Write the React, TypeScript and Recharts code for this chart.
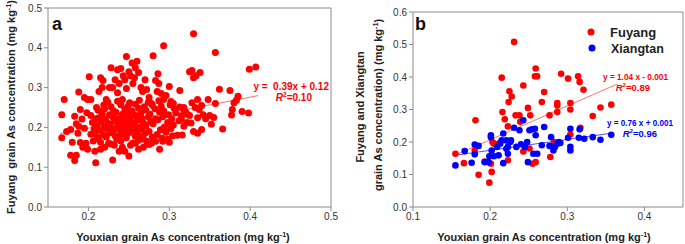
import { ScatterChart, Scatter, XAxis, YAxis, ReferenceLine } from 'recharts';

// panel a: Youxian (x) vs Fuyang (y), mg/kg
const fuyangA: [number, number][] = [
  // sparse left side
  [0.167, 0.232], [0.170, 0.270], [0.167, 0.174], [0.173, 0.190], [0.178, 0.195], [0.180, 0.163],
  [0.178, 0.130], [0.183, 0.117], [0.185, 0.130], [0.183, 0.228], [0.185, 0.209], [0.188, 0.289],
  [0.190, 0.245], [0.192, 0.221], [0.195, 0.198], [0.187, 0.185], [0.190, 0.162], [0.197, 0.160],
  [0.198, 0.237], [0.195, 0.275], [0.199, 0.270], [0.193, 0.150], [0.199, 0.145], [0.188, 0.203],
  [0.201, 0.327], [0.203, 0.270], [0.203, 0.230], [0.205, 0.212], [0.203, 0.183], [0.206, 0.166],
  [0.208, 0.140], [0.209, 0.111], [0.210, 0.250], [0.207, 0.196], [0.211, 0.175], [0.209, 0.222],
  // upper scatter
  [0.215, 0.325], [0.218, 0.318], [0.213, 0.290], [0.217, 0.300], [0.222, 0.270], [0.228, 0.350],
  [0.226, 0.300], [0.230, 0.300], [0.233, 0.320], [0.236, 0.345], [0.240, 0.348], [0.238, 0.310],
  [0.236, 0.287], [0.243, 0.330], [0.245, 0.320], [0.242, 0.270], [0.247, 0.298], [0.250, 0.340],
  [0.252, 0.330], [0.255, 0.310], [0.258, 0.350], [0.257, 0.325], [0.262, 0.338], [0.265, 0.300],
  [0.267, 0.290], [0.270, 0.320], [0.272, 0.295], [0.275, 0.275], [0.278, 0.260], [0.280, 0.380],
  [0.283, 0.318], [0.286, 0.335], [0.287, 0.310], [0.285, 0.290], [0.290, 0.285], [0.293, 0.270],
  [0.296, 0.280], [0.300, 0.303], [0.302, 0.265], [0.305, 0.260], [0.247, 0.378], [0.260, 0.366],
  [0.254, 0.362], [0.293, 0.405], [0.330, 0.435],
  // right side
  [0.313, 0.293], [0.318, 0.250], [0.320, 0.240], [0.315, 0.220], [0.322, 0.212], [0.325, 0.340],
  [0.328, 0.343], [0.330, 0.325], [0.333, 0.330], [0.338, 0.338], [0.328, 0.262], [0.332, 0.250],
  [0.335, 0.270], [0.337, 0.245], [0.340, 0.255], [0.342, 0.232], [0.345, 0.222], [0.330, 0.190],
  [0.335, 0.185], [0.340, 0.195], [0.325, 0.230], [0.310, 0.180], [0.348, 0.270], [0.350, 0.230],
  [0.352, 0.208], [0.355, 0.225], [0.357, 0.260], [0.362, 0.296], [0.366, 0.196], [0.375, 0.293],
  [0.378, 0.245], [0.377, 0.231], [0.380, 0.262], [0.383, 0.268], [0.385, 0.278], [0.390, 0.240],
  [0.398, 0.236], [0.357, 0.388], [0.399, 0.346], [0.407, 0.352], [0.316, 0.181],
  // lower edge
  [0.215, 0.145], [0.220, 0.150], [0.225, 0.160], [0.230, 0.118], [0.232, 0.155], [0.238, 0.140],
  [0.242, 0.150], [0.245, 0.140], [0.250, 0.128], [0.252, 0.155], [0.258, 0.160], [0.262, 0.145],
  [0.268, 0.150], [0.272, 0.165], [0.278, 0.160], [0.288, 0.145], [0.292, 0.165], [0.298, 0.170],
  [0.300, 0.163],
  // dense cluster
  [0.215, 0.163], [0.228, 0.158], [0.240, 0.166], [0.255, 0.161], [0.262, 0.168], [0.275, 0.157], [0.283, 0.165],
  [0.212, 0.172], [0.222, 0.176], [0.235, 0.170], [0.247, 0.174], [0.258, 0.178], [0.268, 0.171], [0.279, 0.176], [0.291, 0.173],
  [0.208, 0.184], [0.218, 0.181], [0.226, 0.186], [0.233, 0.179], [0.243, 0.183], [0.251, 0.187], [0.262, 0.180],
  [0.270, 0.185], [0.285, 0.182], [0.296, 0.188], [0.304, 0.179],
  [0.214, 0.193], [0.221, 0.197], [0.229, 0.190], [0.238, 0.195], [0.246, 0.191], [0.254, 0.198], [0.259, 0.192],
  [0.266, 0.196], [0.275, 0.190], [0.289, 0.194], [0.302, 0.197],
  [0.210, 0.205], [0.219, 0.201], [0.227, 0.207], [0.236, 0.203], [0.241, 0.208], [0.249, 0.202], [0.257, 0.206],
  [0.263, 0.200], [0.271, 0.204], [0.280, 0.209], [0.294, 0.201], [0.305, 0.206], [0.318, 0.203],
  [0.216, 0.214], [0.224, 0.211], [0.232, 0.216], [0.239, 0.212], [0.245, 0.217], [0.253, 0.213], [0.261, 0.218],
  [0.268, 0.211], [0.277, 0.215], [0.286, 0.219], [0.298, 0.212], [0.312, 0.217], [0.327, 0.211],
  [0.213, 0.224], [0.221, 0.221], [0.230, 0.227], [0.237, 0.222], [0.244, 0.226], [0.251, 0.221], [0.259, 0.228],
  [0.266, 0.223], [0.274, 0.226], [0.283, 0.221], [0.292, 0.227], [0.303, 0.222], [0.315, 0.229], [0.335, 0.224],
  [0.217, 0.235], [0.226, 0.232], [0.234, 0.238], [0.242, 0.233], [0.250, 0.237], [0.257, 0.231], [0.265, 0.236],
  [0.276, 0.233], [0.288, 0.238], [0.299, 0.232], [0.308, 0.236], [0.322, 0.233],
  [0.212, 0.243], [0.220, 0.247], [0.231, 0.242], [0.245, 0.246], [0.254, 0.241], [0.262, 0.248], [0.271, 0.244],
  [0.282, 0.247], [0.293, 0.242], [0.306, 0.248], [0.318, 0.244],
  [0.219, 0.256], [0.228, 0.252], [0.240, 0.257], [0.249, 0.253], [0.258, 0.258], [0.269, 0.252], [0.279, 0.256],
  [0.290, 0.253], [0.301, 0.257], [0.313, 0.251],
  [0.224, 0.263], [0.236, 0.266], [0.251, 0.262], [0.263, 0.268], [0.274, 0.263], [0.287, 0.267],
  [0.233, 0.196], [0.248, 0.186], [0.256, 0.208], [0.226, 0.199], [0.244, 0.201], [0.238, 0.178],
];

// panel b
const fuyangB: [number, number][] = [
  [0.155, 0.164], [0.166, 0.135], [0.181, 0.267], [0.180, 0.174], [0.185, 0.099], [0.199, 0.075],
  [0.201, 0.133], [0.202, 0.108], [0.203, 0.200], [0.205, 0.195], [0.215, 0.398], [0.216, 0.292],
  [0.219, 0.270], [0.223, 0.248], [0.224, 0.323], [0.225, 0.356], [0.228, 0.340], [0.223, 0.144],
  [0.231, 0.508], [0.233, 0.282], [0.238, 0.282], [0.239, 0.262], [0.243, 0.374], [0.243, 0.171],
  [0.249, 0.305], [0.252, 0.282], [0.251, 0.180], [0.255, 0.133], [0.259, 0.426], [0.258, 0.402],
  [0.261, 0.402], [0.259, 0.138], [0.267, 0.323], [0.270, 0.354], [0.277, 0.282], [0.278, 0.154],
  [0.283, 0.200], [0.287, 0.292], [0.287, 0.320], [0.287, 0.312], [0.292, 0.410], [0.301, 0.395],
  [0.304, 0.320], [0.304, 0.300], [0.304, 0.223], [0.314, 0.402], [0.316, 0.385], [0.321, 0.361],
  [0.317, 0.244], [0.333, 0.280], [0.343, 0.306], [0.357, 0.315], [0.193, 0.140], [0.212, 0.196],
];

const xiangtanB: [number, number][] = [
  [0.155, 0.128], [0.167, 0.172], [0.176, 0.136], [0.180, 0.192], [0.180, 0.162], [0.185, 0.188],
  [0.193, 0.138], [0.198, 0.138], [0.199, 0.156], [0.201, 0.215], [0.202, 0.174], [0.205, 0.156],
  [0.211, 0.159], [0.209, 0.185], [0.213, 0.195], [0.215, 0.205], [0.217, 0.226], [0.217, 0.135],
  [0.221, 0.205], [0.223, 0.164], [0.223, 0.185], [0.226, 0.200], [0.227, 0.205], [0.231, 0.244],
  [0.234, 0.185], [0.238, 0.236], [0.240, 0.193], [0.243, 0.267], [0.245, 0.185], [0.248, 0.200],
  [0.249, 0.138], [0.251, 0.236], [0.254, 0.239], [0.256, 0.164], [0.258, 0.241], [0.259, 0.221],
  [0.261, 0.164], [0.267, 0.190], [0.270, 0.246], [0.277, 0.188], [0.279, 0.215], [0.282, 0.174],
  [0.284, 0.185], [0.287, 0.195], [0.289, 0.200], [0.291, 0.197], [0.301, 0.213], [0.304, 0.241],
  [0.304, 0.185], [0.304, 0.174], [0.315, 0.213], [0.316, 0.239], [0.322, 0.210], [0.333, 0.215],
  [0.343, 0.207], [0.357, 0.222], [0.201, 0.221], [0.221, 0.179],
];

// regression lines as drawn: [slope, intercept, xFrom, xTo]
const fitA = [0.39, 0.12, 0.165, 0.41];
const fitFuyangB = [1.04, -0.001, 0.157, 0.365];
// the blue line in the figure runs between these two points
const fitXiangtanB: [number, number][] = [[0.157, 0.160], [0.357, 0.227]];

const ticksA_X = [0.2, 0.3, 0.4, 0.5];
const ticksA_Y = [0, 0.1, 0.2, 0.3, 0.4, 0.5];
const ticksB_X = [0.1, 0.2, 0.3, 0.4];
const ticksB_Y = [0, 0.1, 0.2, 0.3, 0.4, 0.5, 0.6];

const FONT = 'Arial, "Liberation Sans", sans-serif';
const AXIS = '#8a8a8a';
const tickStyle = { fontSize: 10, fill: '#333', fontFamily: FONT };

const toPts = (arr: [number, number][]) => arr.map(([x, y]) => ({ x, y }));
const seg = (f: number[]) => [
  { x: f[2], y: f[0] * f[2] + f[1] },
  { x: f[3], y: f[0] * f[3] + f[1] },
];

const dot = (color: string, r: number) => (props: any) =>
  <circle cx={props.cx} cy={props.cy} r={r} fill={color} />;

const fmt = (v: number) => v.toFixed(1);

function Sup({ children }: { children: string }) {
  return <tspan fontSize="65%" dy={-4}>{children}</tspan>;
}

export default function App() {
  return (
    <div style={{ position: 'absolute', left: 0, top: 0, width: 685, height: 244, background: '#fff', fontFamily: FONT }}>
      <div style={{ position: 'absolute', left: 0, top: 0 }}>
        <ScatterChart width={340} height={244} margin={{ top: 8, right: 9, left: 0, bottom: 0 }}>
          <XAxis type="number" dataKey="x" domain={[0.15, 0.5]} ticks={ticksA_X} tickFormatter={fmt}
            stroke={AXIS} tick={tickStyle} tickSize={4} height={37} allowDataOverflow />
          <YAxis type="number" dataKey="y" domain={[0, 0.5]} ticks={ticksA_Y} tickFormatter={fmt}
            stroke={AXIS} tick={tickStyle} tickSize={4} width={48} allowDataOverflow />
          <ReferenceLine y={0.5} stroke={AXIS} />
          <ReferenceLine x={0.5} stroke={AXIS} />
          <ReferenceLine segment={seg(fitA)} stroke="#ff7070" strokeWidth={1} />
          <Scatter data={toPts(fuyangA)} fill="#ff0000" shape={dot('#ff0000', 3.5)} isAnimationActive={false} />
        </ScatterChart>
      </div>
      <div style={{ position: 'absolute', left: 340, top: 0 }}>
        <ScatterChart width={345} height={244} margin={{ top: 12, right: 2, left: 0, bottom: 0 }}>
          <XAxis type="number" dataKey="x" domain={[0.1, 0.45]} ticks={ticksB_X} tickFormatter={fmt}
            stroke={AXIS} tick={tickStyle} tickSize={4} height={37} allowDataOverflow />
          <YAxis type="number" dataKey="y" domain={[0, 0.6]} ticks={ticksB_Y} tickFormatter={fmt}
            stroke={AXIS} tick={tickStyle} tickSize={4} width={73} allowDataOverflow />
          <ReferenceLine y={0.6} stroke={AXIS} />
          <ReferenceLine x={0.45} stroke={AXIS} />
          <ReferenceLine segment={seg(fitFuyangB)} stroke="#ff7070" strokeWidth={1} />
          <ReferenceLine segment={toPts(fitXiangtanB)} stroke="#5050ff" strokeWidth={1} />
          <Scatter data={toPts(fuyangB)} fill="#ff0000" shape={dot('#ff0000', 3.3)} isAnimationActive={false} />
          <Scatter data={toPts(xiangtanB)} fill="#0000ff" shape={dot('#0000ff', 3.3)} isAnimationActive={false} />
        </ScatterChart>
      </div>
      <svg width={685} height={244} style={{ position: 'absolute', left: 0, top: 0, pointerEvents: 'none' }}
        fontFamily={FONT}>
        {/* panel a */}
        <text x={52} y={30} fontSize={18} fontWeight="bold" fill="#111">a</text>
        <text transform="translate(15,107) rotate(-90)" textAnchor="middle" fontSize={11} fontWeight="bold" fill="#222">
          Fuyang{'\u00a0\u00a0'}grain As concentration (mg kg<Sup>-1</Sup><tspan dy={4}>)</tspan>
        </text>
        <text x={183} y={241} textAnchor="middle" fontSize={11} fontWeight="bold" fill="#222">
          Youxian grain As concentration (mg kg<Sup>-1</Sup><tspan dy={4}>)</tspan>
        </text>
        <text x={329} y={90} textAnchor="end" fontSize={10} fontWeight="bold" fill="#ff0000">
          {'y =\u00a0\u00a00.39x + 0.12'}
        </text>
        <text x={312} y={101} textAnchor="end" fontSize={10} fontWeight="bold" fill="#ff0000">
          <tspan fontStyle="italic">R</tspan><Sup>2</Sup><tspan dy={4}>=0.10</tspan>
        </text>

        {/* panel b */}
        <text x={415} y={30} fontSize={18} fontWeight="bold" fill="#111">b</text>
        <circle cx={591} cy={32} r={3.5} fill="#ff0000" />
        <text x={610} y={37} fontSize={13} fontWeight="bold" fill="#222">Fuyang</text>
        <circle cx={592} cy={48} r={3.5} fill="#0000ff" />
        <text x={611} y={53} fontSize={12.5} fontWeight="bold" fill="#222">Xiangtan</text>
        <text x={603} y={80} textLength={65} lengthAdjust="spacingAndGlyphs" fontSize={9.5} fontWeight="bold" fill="#ff0000">
          y = 1.04 x - 0.001
        </text>
        <text x={650} y={91} textAnchor="end" fontSize={9.5} fontWeight="bold" fill="#ff0000">
          <tspan fontStyle="italic">R</tspan><Sup>2</Sup><tspan dy={4}>=0.89</tspan>
        </text>
        <text x={607} y={126} textLength={66} lengthAdjust="spacingAndGlyphs" fontSize={9.5} fontWeight="bold" fill="#0000ff">
          y = 0.76 x + 0.001
        </text>
        <text x={657} y={137} textAnchor="end" fontSize={9.5} fontWeight="bold" fill="#0000ff">
          <tspan fontStyle="italic">R</tspan><Sup>2</Sup><tspan dy={4}>=0.96</tspan>
        </text>
        <text transform="translate(364,107) rotate(-90)" textAnchor="middle" fontSize={11} fontWeight="bold" fill="#222">
          Fuyang and Xiangtan
        </text>
        <text transform="translate(382,105) rotate(-90)" textAnchor="middle" fontSize={11} fontWeight="bold" fill="#222">
          grain As concentration) (mg kg<Sup>-1</Sup><tspan dy={4}>)</tspan>
        </text>
        <text x={544} y={241} textAnchor="middle" fontSize={11} fontWeight="bold" fill="#222">
          Youxian grain As concentration (mg kg<Sup>-1</Sup><tspan dy={4}>)</tspan>
        </text>
      </svg>
    </div>
  );
}
